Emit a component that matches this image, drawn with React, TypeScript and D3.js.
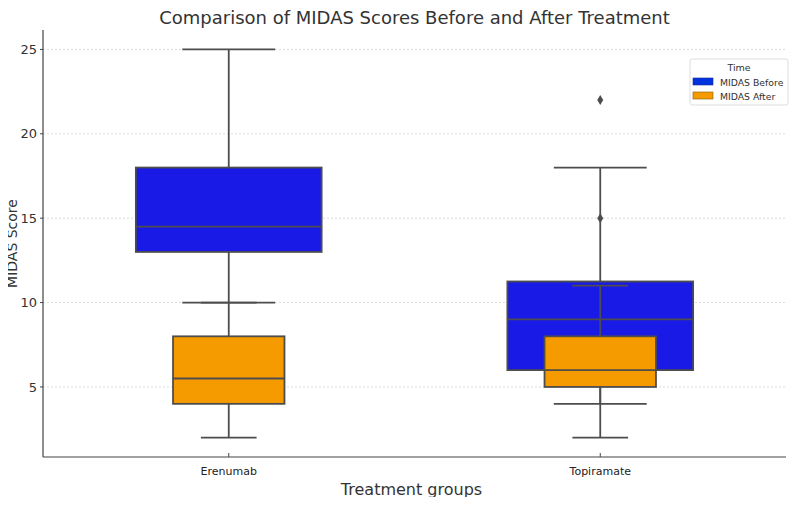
import { useEffect, useRef } from "react";
import * as d3 from "d3";

const groups = ["Erenumab", "Topiramate"];
const times = ["MIDAS Before", "MIDAS After"];

// [whiskerLow, q1, median, q3, whiskerHigh] per group
const beforeStats = [
    [10, 13, 14.5, 18, 25],
    [4, 6, 9, 11.25, 18],
];
const afterStats = [
    [2, 4, 5.5, 8, 10],
    [2, 5, 6, 8, 11],
];
const beforeOutliers = [[], [22]];
const afterOutliers = [[], [15]];

const yTicks = [5, 10, 15, 20, 25];

const W = 797;
const H = 505;

export default function App() {
    const svgRef = useRef<SVGSVGElement>(null);

    useEffect(() => {
        if (!svgRef.current) return;
        const svg = d3.select(svgRef.current);
        svg.selectAll("*").remove();

        const margin = { top: 30, right: 11, bottom: 48, left: 43 };
        const width = W - margin.left - margin.right;
        const height = H - margin.top - margin.bottom;
        const font = "DejaVu Sans, sans-serif";
        const lineColor = "#4d4d4d";

        const g = svg.append("g").attr("transform", `translate(${margin.left},${margin.top})`);

        const x = d3.scaleLinear().domain([-0.5, 1.5]).range([0, width]);
        const y = d3.scaleLinear().domain([0.85, 26.15]).range([height, 0]);
        const unit = x(1) - x(0);

        // Grid
        g.append("g")
            .selectAll("line")
            .data(yTicks)
            .join("line")
            .attr("x1", 0).attr("x2", width)
            .attr("y1", d => y(d)).attr("y2", d => y(d))
            .attr("stroke", "#d2d2d2")
            .attr("stroke-width", 0.8)
            .attr("stroke-dasharray", "2,2");

        const series = [
            { stats: beforeStats, outliers: beforeOutliers, fill: "#1a1ae6", boxW: 0.5 },
            { stats: afterStats, outliers: afterOutliers, fill: "#f59b00", boxW: 0.3 },
        ];

        series.forEach(s => {
            s.stats.forEach((st, i) => {
                const [lo, q1, med, q3, hi] = st;
                const cx = x(i);
                const bw = s.boxW * unit;
                const cw = bw / 2;
                const bg = g.append("g");
                // whiskers
                bg.append("line").attr("x1", cx).attr("x2", cx).attr("y1", y(q3)).attr("y2", y(hi))
                    .attr("stroke", lineColor).attr("stroke-width", 1.8);
                bg.append("line").attr("x1", cx).attr("x2", cx).attr("y1", y(q1)).attr("y2", y(lo))
                    .attr("stroke", lineColor).attr("stroke-width", 1.8);
                [lo, hi].forEach(v => {
                    bg.append("line").attr("x1", cx - cw / 2).attr("x2", cx + cw / 2)
                        .attr("y1", y(v)).attr("y2", y(v))
                        .attr("stroke", lineColor).attr("stroke-width", 1.8);
                });
                // box
                bg.append("rect")
                    .attr("x", cx - bw / 2).attr("width", bw)
                    .attr("y", y(q3)).attr("height", y(q1) - y(q3))
                    .attr("fill", s.fill)
                    .attr("stroke", lineColor).attr("stroke-width", 1.8);
                bg.append("line").attr("x1", cx - bw / 2).attr("x2", cx + bw / 2)
                    .attr("y1", y(med)).attr("y2", y(med))
                    .attr("stroke", lineColor).attr("stroke-width", 1.8);
                // outliers
                s.outliers[i].forEach(v => {
                    const py = y(v);
                    bg.append("path")
                        .attr("d", `M${cx},${py - 5}L${cx + 3},${py}L${cx},${py + 5}L${cx - 3},${py}Z`)
                        .attr("fill", lineColor);
                });
            });
        });

        // Axes spines
        g.append("line").attr("x1", 0).attr("x2", 0).attr("y1", 0).attr("y2", height)
            .attr("stroke", "#444").attr("stroke-width", 1.2);
        g.append("line").attr("x1", 0).attr("x2", width).attr("y1", height).attr("y2", height)
            .attr("stroke", "#444").attr("stroke-width", 1.2);

        // Y ticks
        const yt = g.append("g").selectAll("g").data(yTicks).join("g")
            .attr("transform", d => `translate(0,${y(d)})`);
        yt.append("line").attr("x1", -3).attr("x2", 0).attr("stroke", "#444");
        yt.append("text")
            .attr("x", -6).attr("dy", "0.35em")
            .attr("text-anchor", "end")
            .attr("font-family", font).attr("font-size", 13)
            .attr("fill", "#333")
            .text(d => d);

        // X ticks
        const xt = g.append("g").selectAll("g").data(groups).join("g")
            .attr("transform", (_d, i) => `translate(${x(i)},${height})`);
        xt.append("line").attr("y1", -4).attr("y2", 0).attr("stroke", "#444");
        xt.append("text")
            .attr("y", 18)
            .attr("text-anchor", "middle")
            .attr("font-family", font).attr("font-size", 11)
            .attr("fill", "#222")
            .text(d => d);

        // Labels
        svg.append("text")
            .attr("x", margin.left + width / 2).attr("y", 24)
            .attr("text-anchor", "middle")
            .attr("font-family", font).attr("font-size", 18)
            .attr("fill", "#333")
            .text("Comparison of MIDAS Scores Before and After Treatment");
        svg.append("text")
            .attr("x", margin.left + width / 2 - 3).attr("y", 495)
            .attr("text-anchor", "middle")
            .attr("font-family", font).attr("font-size", 16)
            .attr("fill", "#333")
            .text("Treatment groups");
        svg.append("text")
            .attr("transform", `translate(17,${margin.top + height / 2}) rotate(-90)`)
            .attr("text-anchor", "middle")
            .attr("font-family", font).attr("font-size", 14)
            .attr("fill", "#333")
            .text("MIDAS Score");

        // Legend
        const lg = svg.append("g").attr("transform", "translate(690,59)");
        lg.append("rect").attr("width", 98).attr("height", 46).attr("rx", 2)
            .attr("fill", "white").attr("fill-opacity", 0.8)
            .attr("stroke", "#dddddd");
        lg.append("text").attr("x", 49).attr("y", 12)
            .attr("text-anchor", "middle")
            .attr("font-family", font).attr("font-size", 9.5).attr("fill", "#333")
            .text("Time");
        const legendFills = ["#0033dd", "#f59b00"];
        times.forEach((t, i) => {
            lg.append("rect").attr("x", 3).attr("y", 19 + i * 14).attr("width", 20).attr("height", 7)
                .attr("fill", legendFills[i]).attr("stroke", i === 0 ? "#1a2a99" : "#8a5a00").attr("stroke-width", 0.6);
            lg.append("text").attr("x", 30).attr("y", 26.5 + i * 14)
                .attr("font-family", font).attr("font-size", 9.3).attr("fill", "#333")
                .text(t);
        });
    }, []);

    return <svg ref={svgRef} width={W} height={H} style={{ display: "block", margin: -8 }} />;
}
